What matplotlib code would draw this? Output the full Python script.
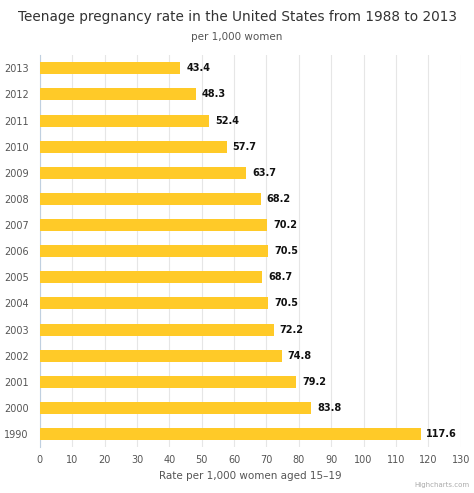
import matplotlib
matplotlib.use("Agg")
import matplotlib.pyplot as plt

years = ["2013","2012","2011","2010","2009","2008","2007","2006","2005","2004","2003","2002","2001","2000","1990"]
rates = [43.4,48.3,52.4,57.7,63.7,68.2,70.2,70.5,68.7,70.5,72.2,74.8,79.2,83.8,117.6]

fig = plt.figure(figsize=(4.74,4.93), dpi=100)
ax = fig.add_axes([0.084,0.093,0.888,0.795])
y = list(range(len(years)))
ax.barh(y, rates, height=0.46, color="#FFCA28", zorder=3)
for yi, v in zip(y, rates):
    ax.text(v+1.8, yi, f"{v}", va="center", ha="left", fontsize=7, fontweight="bold", color="#111111")
ax.set_ylim(len(years)-0.5, -0.5)
ax.set_yticks(y)
ax.set_yticklabels(years, fontsize=7, color="#555555")
ax.set_xlim(0,130)
ax.set_xticks(range(0,131,10))
ax.tick_params(axis='x', labelsize=7, colors="#555555", length=0, pad=6)
ax.tick_params(axis='y', length=0, pad=8)
ax.grid(axis='x', color="#e6e6e6", linewidth=0.8, zorder=0)
for s in ["top","right","bottom"]:
    ax.spines[s].set_visible(False)
ax.spines["left"].set_color("#c0d0e0")
ax.set_xlabel("Rate per 1,000 women aged 15\u201319", fontsize=7.5, color="#555555", labelpad=4)
fig.text(0.5, 0.965, "Teenage pregnancy rate in the United States from 1988 to 2013", ha="center", va="center", fontsize=9.8, color="#333333")
fig.text(0.5, 0.925, "per 1,000 women", ha="center", va="center", fontsize=7.5, color="#555555")
fig.text(0.99, 0.01, "Highcharts.com", ha="right", va="bottom", fontsize=5, color="#aaaaaa")
fig.savefig("out.png", dpi=100)
